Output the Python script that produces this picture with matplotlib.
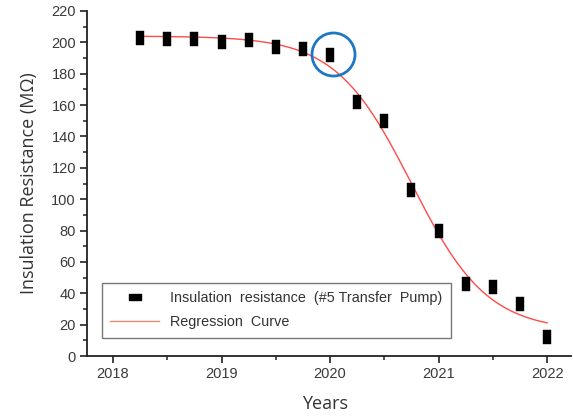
import numpy as np
import matplotlib
matplotlib.use('Agg')
import matplotlib.pyplot as plt
from matplotlib.lines import Line2D
from matplotlib.ticker import MultipleLocator

# measured insulation resistance, quarterly readings
years = [2018.25, 2018.5, 2018.75, 2019.0, 2019.25, 2019.5, 2019.75, 2020.0,
         2020.25, 2020.5, 2020.75, 2021.0, 2021.25, 2021.5, 2021.75, 2022.0]
resistance = [202.5, 202, 202, 200, 201.5, 197, 195.5, 192,
              162, 150, 106, 80, 46, 44, 33, 12]

# Boltzmann regression parameters (upper plateau, lower plateau, centre, width)
fit_a1 = 204.0
fit_a2 = 16.0
fit_x0 = 2020.75
fit_dx = 0.35
fit_range = [2018.25, 2022.0]

# highlighted reading
mark_year = 2020.03
mark_value = 192.3

labelfont = ['Open Sans', 'DejaVu Sans']
tickfont = ['Liberation Sans', 'DejaVu Sans']

fig = plt.figure(figsize=(5.73, 4.16), dpi=100)
ax = fig.add_axes([87 / 573, 60 / 416, (571 - 87) / 573, (356 - 11) / 416])

# tall rectangle marker for the data, wide one for the legend
tallrect = [(-0.25, -0.5), (0.25, -0.5), (0.25, 0.5), (-0.25, 0.5), (-0.25, -0.5)]
widerect = [(-0.5, -0.28), (0.5, -0.28), (0.5, 0.28), (-0.5, 0.28), (-0.5, -0.28)]

xs = np.linspace(fit_range[0], fit_range[1], 300)
ys = fit_a2 + (fit_a1 - fit_a2) / (1 + np.exp((xs - fit_x0) / fit_dx))
ax.plot(xs, ys, color='#ff4a4a', lw=1.0, zorder=2)

ax.plot(years, resistance, ls='none', marker=tallrect, ms=10.5,
        mfc='black', mec='black', mew=0.3, zorder=3)

ax.plot([mark_year], [mark_value], ls='none', marker='o', ms=31,
        mfc='none', mec='#1f77c4', mew=2.0, zorder=4)

ax.set_xlim(2017.76, 2022.22)
ax.set_ylim(0, 220)
ax.xaxis.set_major_locator(MultipleLocator(1))
ax.xaxis.set_minor_locator(MultipleLocator(0.5))
ax.yaxis.set_major_locator(MultipleLocator(20))
ax.yaxis.set_minor_locator(MultipleLocator(10))
ax.xaxis.set_major_formatter(lambda v, p: '%d' % round(v))

for side in ['top', 'right']:
        ax.spines[side].set_visible(False)
for side in ['left', 'bottom']:
        ax.spines[side].set_linewidth(1.3)
        ax.spines[side].set_color('#222222')

ax.tick_params(which='major', direction='out', length=5, width=1.2, color='#222222',
               labelsize=10.5, labelcolor='#3a3a3a', pad=3)
ax.tick_params(which='minor', direction='out', length=3, width=1.1, color='#222222')
for lbl in ax.get_xticklabels() + ax.get_yticklabels():
        lbl.set_family(tickfont)

ax.set_xlabel('Years', fontsize=13, family=labelfont, color='#333333')
ax.set_ylabel('Insulation Resistance (MΩ)', fontsize=13, family=labelfont, color='#333333')
ax.xaxis.set_label_coords((325 - 87) / 484, -(395 - 356) / 345)
ax.yaxis.set_label_coords(-(87 - 38) / 484, 0.5)

handles = [Line2D([], [], ls='none', marker=widerect, ms=8.6, mfc='black', mec='black'),
           Line2D([], [], color='#f58a6a', lw=1.0)]
names = ['Insulation  resistance  (#5 Transfer  Pump)', 'Regression  Curve']
leg = fig.legend(handles, names, loc='upper left',
                 bbox_to_anchor=(101.7 / 573, 1 - 282.7 / 416), borderaxespad=0,
                 fancybox=False, frameon=True, handlelength=3.35, handletextpad=0.75,
                 borderpad=0.6, labelspacing=0.7,
                 prop={'family': tickfont, 'size': 10.4})
leg.get_frame().set_edgecolor('#555555')
leg.get_frame().set_linewidth(1.0)
for t in leg.get_texts():
        t.set_color('#333333')

fig.savefig('out.png', dpi=100)
